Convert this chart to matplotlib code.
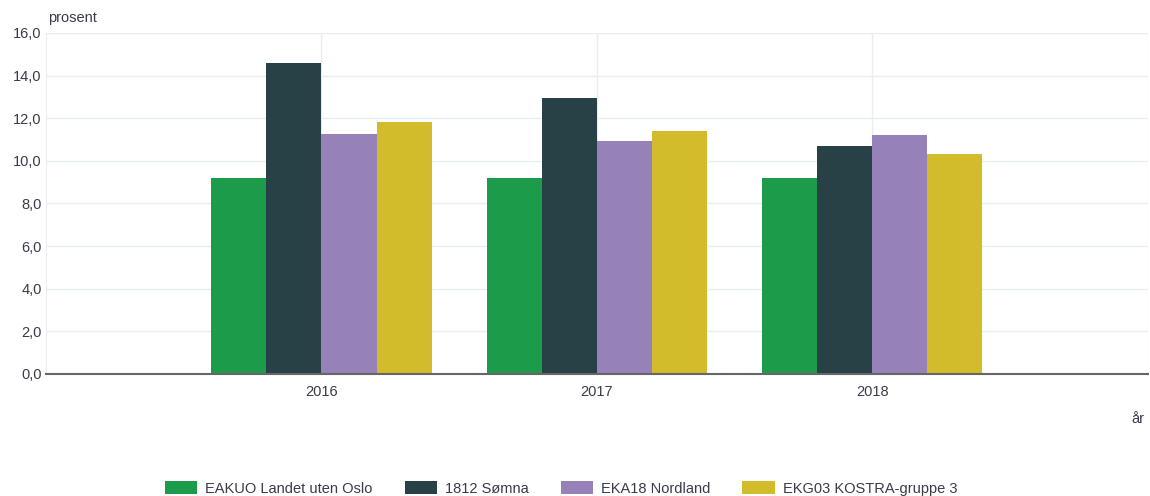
import matplotlib.pyplot as plt
import numpy as np

plt.rcParams['font.family'] = ['Liberation Sans', 'DejaVu Sans']

years = ["2016", "2017", "2018"]
series = ["EAKUO Landet uten Oslo", "1812 Sømna", "EKA18 Nordland", "EKG03 KOSTRA-gruppe 3"]
eakuo = [9.2, 9.2, 9.2]
somna = [14.6, 12.95, 10.7]
nordland = [11.27, 10.93, 11.22]
kostra3 = [11.83, 11.4, 10.3]
colors = ["#1c9c4a", "#274147", "#9682b9", "#d2bc2b"]

txt = "#3a3a4a"
grid = "#e8eef0"

fig = plt.figure(figsize=(11.5, 4.96), dpi=100)
ax = fig.add_axes([0.04, 0.246, 0.958, 0.6875])

x = np.arange(len(years))
w = 0.2
for i, (name, vals) in enumerate(zip(series, [eakuo, somna, nordland, kostra3])):
    ax.bar(x + (i - 1.5) * w, vals, w, color=colors[i], label=name, zorder=3)

ax.set_xlim(-1, 3)
ax.set_ylim(0, 16)
ax.set_yticks(np.arange(0, 17, 2))
ax.set_yticklabels([f"{v:.1f}".replace(".", ",") for v in np.arange(0, 17, 2)])
ax.set_xticks(x)
ax.set_xticklabels(years)
ax.grid(True, color=grid, linewidth=1, zorder=0)
ax.axvline(3, color=grid, linewidth=1, zorder=0)
ax.tick_params(axis='both', length=0, labelsize=10.5, colors=txt)
ax.tick_params(axis='x', pad=8)
ax.tick_params(axis='y', pad=3)
for s in ["top", "right"]:
    ax.spines[s].set_visible(False)
ax.spines["left"].set_color(grid)
ax.spines["bottom"].set_color("#666666")
ax.spines["bottom"].set_linewidth(1.5)
ax.spines["bottom"].set_zorder(4)

fig.text(0.042, 0.95, "prosent", fontsize=10.5, color=txt, ha="left", va="bottom")
fig.text(0.995, 0.155, "år", fontsize=10.5, color=txt, ha="right", va="center")

fig.legend(loc="center", bbox_to_anchor=(0.488, 0.015), ncol=4, frameon=False,
           fontsize=10.5, handlelength=2.2, handleheight=1.0, columnspacing=2.2,
           handletextpad=0.55, labelcolor=txt)

fig.savefig("out.png", dpi=100)
